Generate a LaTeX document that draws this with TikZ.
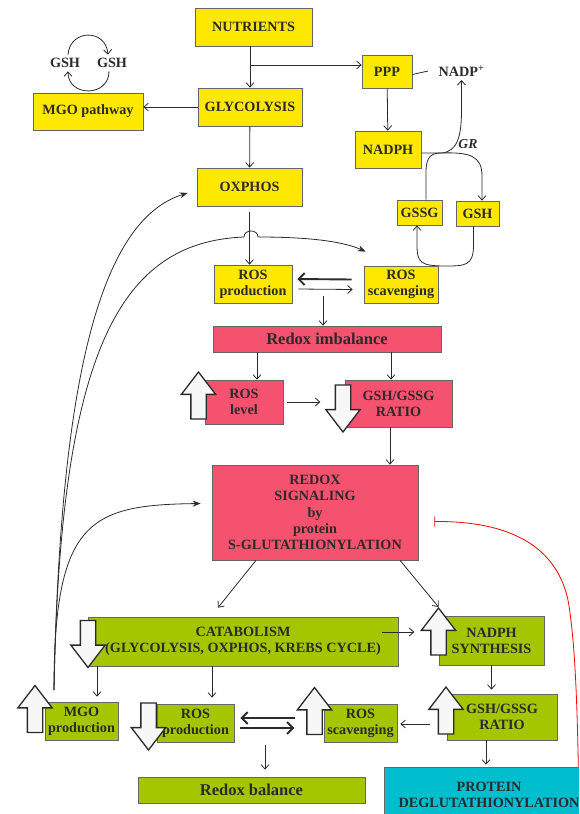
\documentclass[tikz,border=0pt]{standalone}
\usepackage{fontspec}
\setmainfont{Liberation Serif}
\usepackage{tikz}
\usetikzlibrary{arrows.meta,shapes.arrows}
\definecolor{boxyellow}{HTML}{FFE800}
\definecolor{boxpink}{HTML}{F4526E}
\definecolor{boxgreen}{HTML}{A3C600}
\definecolor{boxcyan}{HTML}{00BECE}
\definecolor{inkgray}{HTML}{2B2B2B}

\begin{document}
\begin{tikzpicture}[x=1pt, y=-1pt, >={Straight Barb[length=4.5pt,width=8pt]},
  font=\fontsize{14.2}{16.2}\selectfont\bfseries, text=inkgray,
  box/.style={draw=black!60, line width=0.7pt, inner sep=0pt, align=center},
  ybox/.style={box, fill=boxyellow},
  pbox/.style={box, fill=boxpink},
  gbox/.style={box, fill=boxgreen},
  cbox/.style={box, fill=boxcyan},
  link/.style={->, draw=inkgray, line width=0.8pt},
  curvelink/.style={-{Stealth[length=8pt,width=6pt]}, draw=inkgray, line width=0.8pt},
  swap/.style={-{Straight Barb[length=6pt,width=12pt]}, draw=inkgray, line width=1.9pt},
  blockup/.style={single arrow, draw=inkgray, line width=1.3pt, fill=gray!6,
    shape border rotate=90, minimum height=47pt, inner sep=7pt,
    single arrow head extend=9.5pt, single arrow tip angle=75},
  blockdown/.style={blockup, shape border rotate=270}]
  \clip (0,0) rectangle (579,814);

  % top: nutrients and glutathione cycle
  \node[ybox, minimum width=117pt, minimum height=38pt] (nutri) at (253.5,27) {NUTRIENTS};
  \node[ybox, minimum width=104pt, minimum height=38pt] (glyco) at (250,107) {GLYCOLYSIS};
  \node[ybox, minimum width=110pt, minimum height=37pt] (mgop) at (88,111.5) {MGO pathway};
  \node[ybox, minimum width=105pt, minimum height=38pt] (oxphos) at (249.5,187) {OXPHOS};
  \node[ybox, minimum width=50pt, minimum height=33pt] (ppp) at (387,71.5) {PPP};
  \node (nadp) at (461.5,71) {NADP\textsuperscript{+}};
  \node[ybox, minimum width=66pt, minimum height=37pt] (nadph) at (388,149.5) {NADPH};
  \node[font=\fontsize{13.7}{16}\selectfont\bfseries\itshape] (gr) at (468,144) {GR};
  \node[ybox, minimum width=45pt, minimum height=25pt] (gssg) at (419.5,212.5) {GSSG};
  \node[ybox, minimum width=43pt, minimum height=25pt] (gsh) at (477.5,213.5) {GSH};
  \node (gsha) at (65,63) {GSH};
  \node (gshb) at (112,63) {GSH};

  \coordinate (split) at (250,65);
  \draw[link] (glyco |- nutri.south) -- (glyco);
  \draw[link] (split) -- (split -| ppp.west);
  \draw[link] (glyco.west) -- (glyco.west -| mgop.east);
  \draw[link] (glyco) -- (oxphos);
  \draw[link] (ppp) -- (nadph);
  \draw[inkgray, line width=0.8pt] ([yshift=-3pt]ppp.east) -- ([xshift=-7pt]nadp.west);
  \draw[link] ([xshift=3pt]gsha.north) .. controls ([xshift=5pt,yshift=26pt]gsha.north)
    and ([xshift=-6pt,yshift=26pt]gshb.north) .. ([xshift=-4pt]gshb.north);
  \draw[link] ([xshift=-3pt]gshb.south) .. controls ([xshift=-3pt,yshift=-26pt]gshb.south)
    and ([xshift=3pt,yshift=-26pt]gsha.south) .. ([xshift=3pt]gsha.south);

  \coordinate (grjoin) at (441,153);
  \draw[link] (nadph.east |- grjoin) -- (grjoin) .. controls (458,152) and (461.5,135)
    .. (461.5,110) -- (nadp.south);
  \draw[link] ([xshift=6.5pt]gssg.north) -- (426,172) .. controls (426,156) and (432,153)
    .. (grjoin) .. controls (470,152) and (482,156) .. (482,176) -- ([xshift=4.5pt]gsh.north);
  \draw[link] ([xshift=-4pt]gsh.south) -- (473.5,245) .. controls (473.5,266) and (465,266)
    .. (445,266) .. controls (420,266) and (417,262) .. (417,245) -- ([xshift=-2.5pt]gssg.south);

  % redox imbalance
  \node[ybox, minimum width=78pt, minimum height=38pt] (rosprod) at (253,284) {ROS\\production};
  \node[ybox, minimum width=74pt, minimum height=37pt] (rosscav) at (401,284.5) {ROS\\scavenging};
  \node[pbox, minimum width=228pt, minimum height=26pt,
    font=\fontsize{16.5}{18}\selectfont\bfseries] (imbal) at (327,339) {Redox imbalance};
  \node[pbox, minimum width=78pt, minimum height=44pt] (roslev) at (244,402) {ROS\\level};
  \node[pbox, minimum width=107pt, minimum height=47pt] (ratioa) at (398.5,403.5) {GSH/GSSG\\RATIO};
  \node[blockup] (roslevup) at (198.5,400.5) {};
  \node[blockdown] (ratioadown) at (343,403.5) {};
  \node[pbox, minimum width=206pt, minimum height=95pt] (redox) at (315,512.5)
    {REDOX\\SIGNALING\\by\\protein\\S-GLUTATHIONYLATION};

  \coordinate (mida) at (323,296);
  \draw[link] ([yshift=-6pt]oxphos.south) -- (oxphos.south |- rosprod.north);
  \draw[swap] ([xshift=-12pt,yshift=5pt]rosscav.west) -- ([xshift=5pt,yshift=5pt]rosprod.east);
  \draw[link] ([xshift=6pt,yshift=-5pt]rosprod.east) -- ([xshift=-11pt,yshift=-5pt]rosscav.west);
  \draw[link] (mida) -- (mida |- imbal.north);
  \draw[link] ([xshift=13pt]roslev.north |- imbal.south) -- ([xshift=13pt]roslev.north);
  \draw[link] ([xshift=-7.5pt]ratioa.north |- imbal.south) -- ([xshift=-7.5pt]ratioa.north);
  \draw[link] ([xshift=4pt]roslev.east) -- ([xshift=37pt]roslev.east);
  \draw[link] ([xshift=-8.5pt]ratioa.south) -- ([xshift=-8.5pt]ratioa.south |- redox.north);

  % redox balance
  \node[gbox, minimum width=310pt, minimum height=49pt] (catab) at (243,641.5)
    {CATABOLISM\\(GLYCOLYSIS, OXPHOS, KREBS CYCLE)};
  \node[gbox, minimum width=105pt, minimum height=49pt] (nadsyn) at (491.5,640.5) {NADPH\\SYNTHESIS};
  \node[gbox, minimum width=73pt, minimum height=38pt] (mgoprod) at (81.5,721) {MGO\\production};
  \node[gbox, minimum width=77pt, minimum height=38pt] (rosprodb) at (195.5,723) {ROS\\production};
  \node[gbox, minimum width=73pt, minimum height=38pt] (rosscavb) at (360.5,723) {ROS\\scavenging};
  \node[gbox, minimum width=110pt, minimum height=46pt] (ratiob) at (502,717) {GSH/GSSG\\RATIO};
  \node[gbox, minimum width=227pt, minimum height=26pt,
    font=\fontsize{16.5}{18}\selectfont\bfseries] (balance) at (251.5,790) {Redox balance};
  \node[cbox, minimum width=210pt, minimum height=56pt] (deglut) at (489,795)
    {PROTEIN\\DEGLUTATHIONYLATION};
  \node[blockdown] (catabdown) at (88,639) {};
  \node[blockup] (nadsynup) at (438.5,636.5) {};
  \node[blockup] (mgoprodup) at (35,714) {};
  \node[blockdown] (rosprodbdown) at (148.5,721.5) {};
  \node[blockup] (rosscavbup) at (314.5,716) {};
  \node[blockup] (ratiobup) at (446,715.5) {};

  \coordinate (mgotop) at (54,690);
  \coordinate (midb) at (265,745);
  \draw[link] ([xshift=-59pt]redox.south) -- ([xshift=-25pt,yshift=9pt]catab.north);
  \draw[link] ([xshift=85pt]redox.south) -- (nadsynup.tip);
  \draw[link] ([xshift=-16pt,yshift=9.5pt]catab.east) -- ([xshift=16pt,yshift=9.5pt]catab.east);
  \draw[link] ([xshift=15.5pt]mgoprod.north |- catab.south) -- ([xshift=15.5pt,yshift=5pt]mgoprod.north);
  \draw[link] ([xshift=16.5pt]rosprodb.north |- catab.south) -- ([xshift=16.5pt,yshift=6pt]rosprodb.north);
  \draw[swap] ([xshift=61pt,yshift=5pt]rosprodb.east) -- ([xshift=6pt,yshift=5pt]rosprodb.east);
  \draw[swap] ([xshift=6pt,yshift=-5pt]rosprodb.east) -- ([xshift=60pt,yshift=-5pt]rosprodb.east);
  \draw[link] (midb) -- ([yshift=7pt]midb |- balance.north);
  \draw[link] (nadsyn.south) -- ([yshift=4pt]nadsyn.south |- ratiob.north);
  \draw[link] ([xshift=33pt,yshift=-1pt]rosscavb.east) -- ([xshift=3pt,yshift=-1pt]rosscavb.east);
  \draw[link] ([xshift=-16pt]ratiob.south) -- ([xshift=-16pt,yshift=2pt]ratiob.south |- deglut.north);

  % feedback curves
  \draw[curvelink] (mgotop) .. controls (60,380) and (100,220) .. ([xshift=-9pt,yshift=-6pt]oxphos.west);
  \draw[curvelink] (mgotop) .. controls (60,350) and (120,242) .. (244,237)
    .. controls (244,229) and (258,229) .. (258,237)
    .. controls (300,237) and (340,240) .. ([xshift=2pt,yshift=14pt]rosscav.north west);
  \draw[curvelink] (mgotop) .. controls (54,520) and (90,505) .. ([xshift=-11pt,yshift=9pt]redox.west);
  \draw[red, line width=0.8pt, -{Bar[width=10pt]}] ([xshift=-16pt]deglut.north east)
    .. controls (577,700) and (575,640) .. (568,600)
    .. controls (555,540) and (500,521) .. ([xshift=16pt,yshift=-9pt]redox.east);
\end{tikzpicture}
\end{document}
